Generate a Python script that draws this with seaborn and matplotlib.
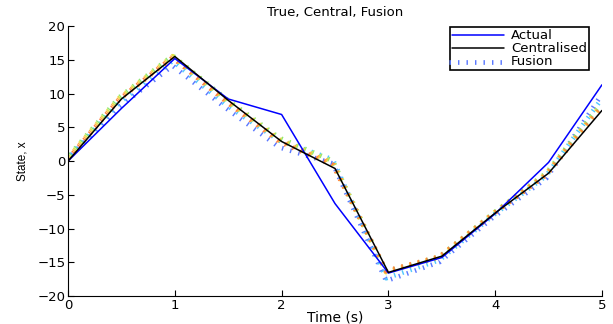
import numpy as np
import pandas as pd
import matplotlib
matplotlib.use("Agg")
import matplotlib.pyplot as plt
import matplotlib.patheffects as pe
import seaborn as sns

# sample times
time = [0, 0.5, 1, 1.5, 2, 2.5, 3, 3.5, 4, 4.5, 5]

actual = [0, 7.8, 15.2, 9.2, 6.9, -6.3, -16.6, -14.3, -7.8, -0.2, 11.3]
central = [0, 9.2, 15.5, 9.0, 2.9, -1.1, -16.5, -14.1, -7.7, -1.8, 7.5]

# fusion estimates of the individual nodes (jet-like colours)
fusion_colors = ["#5a78ff", "#50c8ff", "#90e870", "#e0e040", "#ffb040", "#ff8040"]
fusion_blue = [0.2, 8.2, 14.3, 8.0, 2.2, -0.2, -17.6, -14.8, -8.2, -2.4, 9.6]
fusion_cyan = [0.3, 8.8, 15.0, 8.5, 3.2, 0.4, -17.2, -14.5, -7.9, -2.0, 9.0]
fusion_green = [0.4, 9.6, 15.8, 9.4, 3.6, 0.2, -16.2, -14.0, -7.6, -1.6, 8.4]
fusion_yellow = [0.3, 9.5, 15.7, 9.2, 3.4, 0.0, -16.3, -14.1, -7.6, -1.7, 8.2]
fusion_orange = [0.2, 9.4, 15.6, 9.1, 3.2, -0.2, -16.2, -14.0, -7.7, -1.8, 8.0]
fusion_red = [0.1, 9.3, 15.5, 9.0, 3.0, -0.4, -16.1, -14.0, -7.7, -1.9, 7.8]
fusion_series = [fusion_blue, fusion_cyan, fusion_green, fusion_yellow, fusion_orange, fusion_red]

sns.set_style("ticks", {"axes.edgecolor": "black", "xtick.color": "black",
                        "ytick.color": "black", "text.color": "black",
                        "axes.labelcolor": "black"})
plt.rcParams['font.family'] = ['DejaVu Sans']

fig = plt.figure(figsize=(6.13, 3.24), dpi=100)
ax = fig.add_axes([0.111, 0.0864, 0.871, 0.833])

df = pd.DataFrame({"t": time, "actual": actual, "central": central})

# fusion drawn first as short tick marks, offset slightly to the lower left
for i, (vals, col) in enumerate(zip(fusion_series, fusion_colors)):
    fd = pd.DataFrame({"t": time, "x": vals})
    sns.lineplot(data=fd, x="t", y="x", color=col, lw=3.4, ax=ax,
                 linestyle=(i * 0.25, (0.3, 1.5)),
                 path_effects=[pe.Stroke(offset=(-1.6, -0.8))],
                 label="Fusion" if i == 0 else None)

sns.lineplot(data=df, x="t", y="actual", color="#0000ff", lw=1.1, ax=ax, label="Actual")
sns.lineplot(data=df, x="t", y="central", color="black", lw=1.1, ax=ax, label="Centralised")

ax.set_xlim(0, 5)
ax.set_ylim(-20, 20)
ax.set_xticks([0, 1, 2, 3, 4, 5])
ax.set_yticks([-20, -15, -10, -5, 0, 5, 10, 15, 20])
ax.tick_params(direction="in", length=4, labelsize=9.5, width=0.8, pad=2)
ax.spines["top"].set_visible(False)
ax.spines["right"].set_visible(False)
ax.set_title("True, Central, Fusion", fontsize=9.5, pad=7)
ax.set_xlabel("Time (s)", fontsize=10, labelpad=-1)
ax.set_ylabel("State, x", fontsize=8.5, labelpad=6, family=['Liberation Sans Narrow', 'Liberation Sans'])

handles, labels = ax.get_legend_handles_labels()
order = [labels.index("Actual"), labels.index("Centralised"), labels.index("Fusion")]
leg = ax.legend([handles[k] for k in order], [labels[k] for k in order],
                loc="upper right", bbox_to_anchor=(0.988, 1.02), fontsize=9.5,
                fancybox=False, framealpha=1, edgecolor="black",
                borderpad=0.15, labelspacing=0.0, handlelength=4.0, handletextpad=0.5)
leg.get_frame().set_linewidth(1.2)

fig.savefig("out.png", dpi=100)
